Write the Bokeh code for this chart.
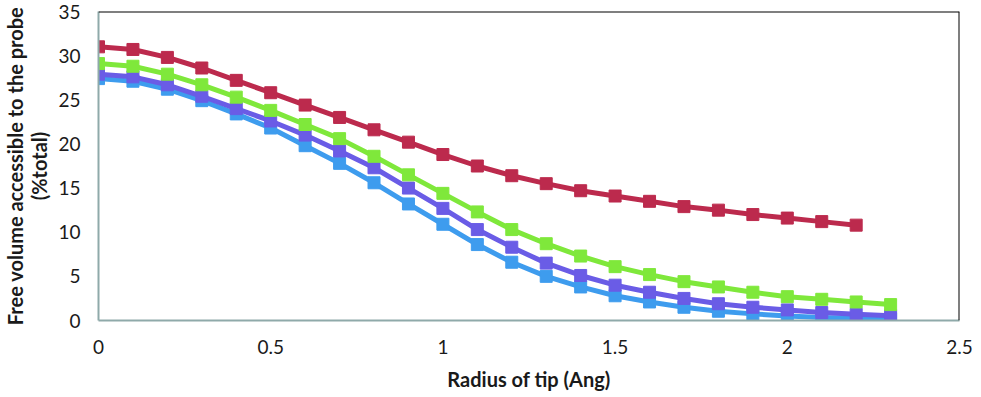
from bokeh.plotting import figure
from bokeh.models import Range1d, Span, FixedTicker
from bokeh.embed import file_html
from bokeh.resources import INLINE

radius_red = [0.0, 0.1, 0.2, 0.3, 0.4, 0.5, 0.6, 0.7, 0.8, 0.9, 1.0, 1.1,
              1.2, 1.3, 1.4, 1.5, 1.6, 1.7, 1.8, 1.9, 2.0, 2.1, 2.2]
radius = [0.0, 0.1, 0.2, 0.3, 0.4, 0.5, 0.6, 0.7, 0.8, 0.9, 1.0, 1.1,
          1.2, 1.3, 1.4, 1.5, 1.6, 1.7, 1.8, 1.9, 2.0, 2.1, 2.2, 2.3]

red_vals = [31.0, 30.7, 29.8, 28.6, 27.2, 25.8, 24.4, 23.0, 21.6, 20.2, 18.8, 17.5,
            16.4, 15.5, 14.7, 14.1, 13.5, 12.9, 12.5, 12.0, 11.6, 11.2, 10.8]
green_vals = [29.1, 28.8, 27.9, 26.7, 25.3, 23.8, 22.2, 20.6, 18.6, 16.5, 14.4, 12.3,
              10.3, 8.7, 7.3, 6.1, 5.2, 4.4, 3.8, 3.2, 2.7, 2.4, 2.1, 1.8]
purple_vals = [27.9, 27.6, 26.7, 25.4, 24.0, 22.6, 21.0, 19.2, 17.3, 15.0, 12.7, 10.3,
               8.3, 6.5, 5.1, 4.0, 3.2, 2.5, 1.9, 1.5, 1.2, 0.9, 0.7, 0.55]
blue_vals = [27.4, 27.1, 26.2, 24.9, 23.4, 21.8, 19.8, 17.8, 15.6, 13.2, 10.9, 8.6,
             6.6, 5.0, 3.8, 2.8, 2.1, 1.5, 1.05, 0.75, 0.5, 0.35, 0.25, 0.2]

x_ticks = [0, 0.5, 1, 1.5, 2, 2.5]
y_ticks = [0, 5, 10, 15, 20, 25, 30, 35]

FONT = "Lato"

p = figure(width=973, height=395, output_backend="svg", toolbar_location=None,
           x_range=Range1d(0, 2.5), y_range=Range1d(0, 35),
           min_border_left=95, min_border_right=14, min_border_top=11,
           min_border_bottom=75)
p.outline_line_color = None
p.grid.visible = False
p.background_fill_color = "white"

series = [
    (radius, blue_vals, "#3E9CEE"),
    (radius, purple_vals, "#6A5CE6"),
    (radius, green_vals, "#7FE83B"),
    (radius_red, red_vals, "#BC2A4D"),
]
for xs, ys, c in series:
    p.line(xs, ys, line_color=c, line_width=5)
    p.scatter(xs, ys, marker="square", size=12, fill_color=c, line_color=c)

p.add_layout(Span(location=35, dimension="width", line_color="black", line_width=2))
p.add_layout(Span(location=2.5, dimension="height", line_color="black", line_width=2))

for ax in (p.xaxis[0], p.yaxis[0]):
    ax.axis_line_color = "#8FAAAA"
    ax.axis_line_width = 2
    ax.major_tick_line_color = None
    ax.minor_tick_line_color = None
    ax.major_tick_out = 0
    ax.major_tick_in = 0
    ax.minor_tick_out = 0
    ax.minor_tick_in = 0
    ax.major_label_text_font = FONT
    ax.major_label_text_font_size = "19px"
    ax.major_label_text_color = "#1a1a1a"
    ax.axis_label_text_font = FONT
    ax.axis_label_text_font_size = "20px"
    ax.axis_label_text_font_style = "bold"
    ax.axis_label_text_color = "#1a1a1a"

p.xaxis.ticker = FixedTicker(ticks=x_ticks)
p.yaxis.ticker = FixedTicker(ticks=y_ticks)
p.xaxis.major_label_overrides = {0: "0", 0.5: "0.5", 1: "1", 1.5: "1.5", 2: "2", 2.5: "2.5"}
p.xaxis.axis_label = "Radius of tip (Ang)"
p.yaxis.axis_label = "Free volume accessible to the probe\n(%total)"
p.yaxis.axis_label_text_line_height = 1.0
p.xaxis.major_label_standoff = 19
p.yaxis.major_label_standoff = 18
p.xaxis.axis_label_standoff = 10
p.yaxis.axis_label_standoff = 4

open("out.html", "w").write(file_html(p, INLINE))
